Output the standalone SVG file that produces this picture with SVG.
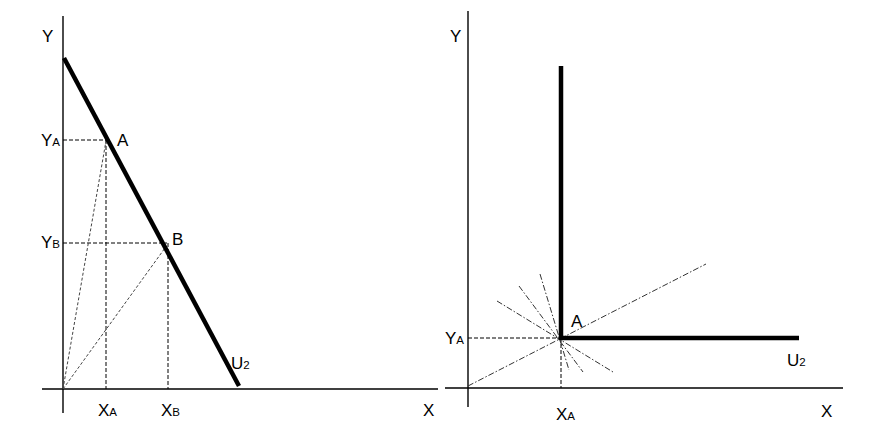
<svg xmlns="http://www.w3.org/2000/svg" width="876" height="427" viewBox="0 0 876 427">
<style>
.ax{stroke:#000;stroke-width:1.4;fill:none}
.th{stroke:#000;stroke-width:4.5;fill:none}
.da{stroke:#000;stroke-width:1;stroke-dasharray:4 2;fill:none}
.fd{stroke:#444;stroke-width:1;stroke-dasharray:3 2;fill:none}
.dd{stroke:#333;stroke-width:1;stroke-dasharray:6 2 1.5 2;fill:none}
text{font-family:"Liberation Sans",Arial,sans-serif;font-size:17px;fill:#000}
.sb{font-size:11.5px}
</style>
<rect width="876" height="427" fill="#fff"/>
<g id="left-panel">
  <g id="left-axes">
    <line class="ax" x1="63" y1="16" x2="63" y2="413"/>
    <line class="ax" x1="42" y1="389" x2="438" y2="389"/>
  </g>
  <g id="left-connectors">
    <line class="da" x1="63" y1="140" x2="106" y2="140"/>
    <line class="da" x1="106" y1="140" x2="106" y2="389"/>
    <line class="da" x1="63" y1="243" x2="167" y2="243"/>
    <line class="da" x1="168" y1="243" x2="168" y2="389"/>
    <line class="fd" x1="63" y1="389" x2="106" y2="141"/>
    <line class="fd" x1="63" y1="389" x2="165" y2="248"/>
  </g>
  <g id="left-U2">
    <line class="th" x1="64" y1="58" x2="239" y2="386"/>
  </g>
  <g id="left-labels">
    <text x="42" y="42">Y</text>
    <text x="41" y="146">Y<tspan class="sb">A</tspan></text>
    <text x="117" y="146">A</text>
    <text x="41" y="248">Y<tspan class="sb">B</tspan></text>
    <text x="172" y="245">B</text>
    <text x="231" y="369">U<tspan class="sb">2</tspan></text>
    <text x="98" y="416">X<tspan class="sb">A</tspan></text>
    <text x="161" y="416">X<tspan class="sb">B</tspan></text>
    <text x="423" y="416">X</text>
  </g>
</g>
<g id="right-panel">
  <g id="right-axes">
    <line class="ax" x1="468" y1="11" x2="468" y2="407"/>
    <line class="ax" x1="445" y1="388" x2="843" y2="388"/>
  </g>
  <g id="right-connectors">
    <line class="da" x1="468" y1="338" x2="561" y2="338"/>
    <line class="da" x1="561" y1="338" x2="561" y2="388"/>
    <line class="dd" x1="468" y1="386" x2="706" y2="264"/>
    <line class="dd" x1="497" y1="301" x2="613" y2="372"/>
    <line class="dd" x1="519" y1="286" x2="583" y2="372"/>
    <line class="dd" x1="540" y1="274" x2="569" y2="370"/>
  </g>
  <g id="right-U2">
    <polyline class="th" points="561,66 561,338 799,338"/>
  </g>
  <g id="right-labels">
    <text x="450" y="42">Y</text>
    <text x="445" y="344">Y<tspan class="sb">A</tspan></text>
    <text x="571" y="327">A</text>
    <text x="787" y="366">U<tspan class="sb">2</tspan></text>
    <text x="556" y="420">X<tspan class="sb">A</tspan></text>
    <text x="821" y="417">X</text>
  </g>
</g>
</svg>
